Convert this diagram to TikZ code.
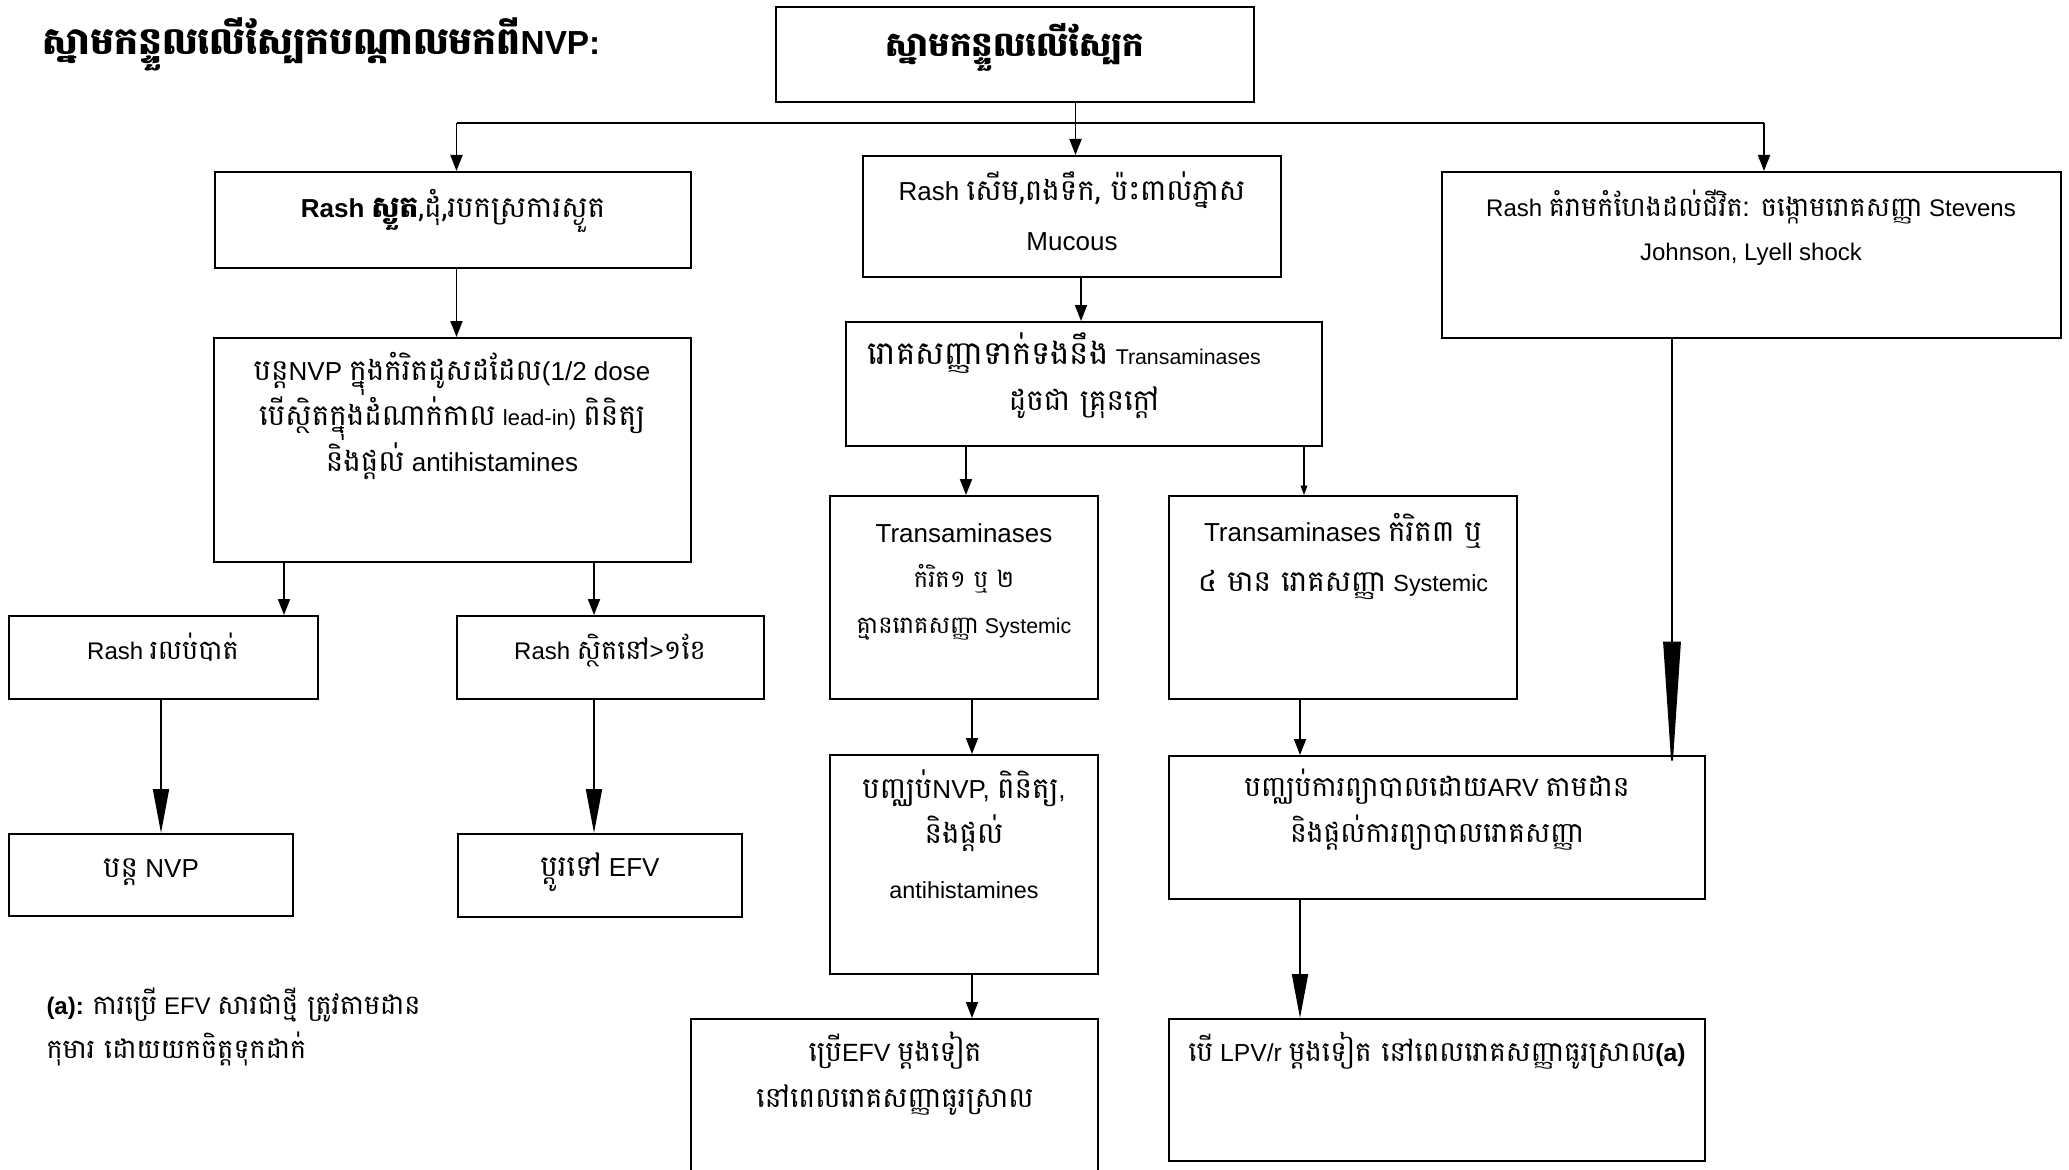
\documentclass[tikz,border=0pt]{standalone}
\usepackage{fontspec}
\setmainfont{Liberation Sans}
\newfontfamily\khfont[Script=Khmer,Scale=1.13]{Battambang}
\newcommand{\kh}[1]{{\khfont #1}}
\usetikzlibrary{arrows.meta,fit,calc}

\tikzset{every picture/.style={line width=0.75pt}}
\tikzset{
  box/.style={draw, line width=1.5pt, inner sep=0pt},
  txt/.style={align=center, anchor=base, inner sep=0pt, font=\fontsize{19.5}{34}\selectfont},
  ln/.style={line width=1.4pt},
  arr/.style={ln, -{Triangle[length=12pt,width=9pt]}},
  bigarr/.style={ln, -{Triangle[length=33pt,width=12pt]}},
  longarr/.style={ln, -{Triangle[length=100pt,width=13pt]}},
  thinarr/.style={line width=0.8pt, -{Triangle[length=7pt,width=5pt]}},
}

\begin{document}
\begin{tikzpicture}[x=0.75pt,y=0.75pt,yscale=-1,xscale=1]
\useasboundingbox (0,0) rectangle (2069,1170);

%title
\node[txt, anchor=base west, font=\fontsize{25}{30}\bfseries] (title) at (42,55) {\kh{ស្នាមកន្ទួលលើស្បែកបណ្ដាលមកពី}NVP:};

%boxes
\node[box, fit={(776,7) (1254,102)}] (top) {};
\node[box, fit={(215,172) (691,268)}] (a) {};
\node[box, fit={(863,156) (1281,277)}] (b) {};
\node[box, fit={(1442,172) (2061,338)}] (c) {};
\node[box, fit={(214,338) (691,562)}] (d) {};
\node[box, fit={(846,322) (1322,446)}] (e) {};
\node[box, fit={(9,616) (318,699)}] (f) {};
\node[box, fit={(457,616) (764,699)}] (g) {};
\node[box, fit={(9,834) (293,916)}] (h) {};
\node[box, fit={(458,834) (742,917)}] (i) {};
\node[box, fit={(830,496) (1098,699)}] (j) {};
\node[box, fit={(1169,496) (1517,699)}] (k) {};
\node[box, fit={(830,755) (1098,974)}] (l) {};
\node[box, fit={(1169,756) (1705,899)}] (m) {};
\node[box, fit={(691,1019) (1098,1174)}] (n) {};
\node[box, fit={(1169,1019) (1705,1161)}] (o) {};

%texts (anchor base = last line)
\node[txt, font=\fontsize{22.5}{30}\bfseries] (ttop) at (1015,57) {\kh{ស្នាមកន្ទួលលើស្បែក}};
\node[txt] (ta) at (453,217) {\textbf{Rash \kh{ស្ងួត}}\kh{,ដុំ,របកស្រការស្ងួត}};
\node[txt, font=\fontsize{19.5}{37.5}\selectfont] (tb) at (1072,250) {Rash \kh{សើម,ពងទឹក, ប៉ះពាល់ភ្នាស}\\Mucous};
\node[txt, font=\fontsize{18}{33}\selectfont] (tc) at (1751,260) {Rash \kh{គំរាមកំហែងដល់ជីវិត: ចង្កោមរោគសញ្ញា} Stevens\\Johnson, Lyell shock};
\node[txt] (td) at (452,471) {\kh{បន្ត}NVP \kh{ក្នុងកំរិតដូសដដែល}(1/2 dose\\\kh{បើស្ថិតក្នុងដំណាក់កាល} {\fontsize{16.5}{34}\selectfont lead-in)} \kh{ពិនិត្យ}\\\kh{និងផ្ដល់} antihistamines};
\node[txt] (te) at (1084,410) {{\fontsize{21.5}{34}\selectfont\kh{រោគសញ្ញាទាក់ទងនឹង}} {\fontsize{16}{34}\selectfont Transaminases}\hspace*{30pt}\\\kh{ដូចជា គ្រុនក្ដៅ}};
\node[txt, font=\fontsize{18}{34}\selectfont] (tf) at (163,659) {Rash \kh{រលប់បាត់}};
\node[txt, font=\fontsize{18}{34}\selectfont] (tg) at (610,659) {Rash \kh{ស្ថិតនៅ}>\kh{១ខែ}};
\node[txt] (th) at (151,877) {\kh{បន្ត} NVP};
\node[txt] (ti) at (600,876) {\kh{ប្ដូរទៅ} EFV};
\node[txt] (tj) at (964,633) {Transaminases\\{\fontsize{16}{34}\selectfont\kh{កំរិត១ ឬ ២}}\\{\fontsize{16}{34}\selectfont\kh{គ្មានរោគសញ្ញា} Systemic}};
\node[txt, font=\fontsize{19.5}{37.5}\selectfont] (tk) at (1343,591) {Transaminases \kh{កំរិត៣ ឬ}\\\kh{៤ មាន រោគសញ្ញា} {\fontsize{17.5}{34}\selectfont Systemic}};
\node[txt] (tl) at (964,898) {\kh{បញ្ឈប់}NVP, \kh{ពិនិត្យ},\\\kh{និងផ្ដល់}\\[7pt]{\fontsize{17.5}{34}\selectfont antihistamines}};
\node[txt, font=\fontsize{18.7}{34}\selectfont] (tm) at (1437,842) {\kh{បញ្ឈប់ការព្យាបាលដោយ}ARV \kh{តាមដាន}\\\kh{និងផ្ដល់ការព្យាបាលរោគសញ្ញា}};
\node[txt, font=\fontsize{18.7}{34}\selectfont] (tn) at (895,1107) {\kh{ប្រើ}EFV \kh{ម្ដងទៀត}\\\kh{នៅពេលរោគសញ្ញាធូរស្រាល}};
\node[txt, font=\fontsize{18.5}{34}\selectfont] (to) at (1437,1061) {\kh{បើ} LPV/r \kh{ម្ដងទៀត នៅពេលរោគសញ្ញាធូរស្រាល}\textbf{(a)}};
\node[txt, anchor=base west, align=left, font=\fontsize{18}{33}\selectfont] (note) at (46,1058) {\textbf{(a):} \kh{ការប្រើ} EFV \kh{សារជាថ្មី ត្រូវតាមដាន}\\\kh{កុមារ ដោយយកចិត្តទុកដាក់}};

%connectors
\coordinate (barl) at (456.5,123);
\coordinate (barm) at (1075.5,123);
\coordinate (barr) at (1764,123);
\draw[ln] (barl) -- (barr);
\draw[arr] (top.south -| barm) -- (b.north -| barm);
\draw[arr] (barl) -- (a.north -| barl);
\draw[arr] (barr) -- (c.north -| barr);
\draw[arr] (a.south -| 456.5,0) -- (d.north -| 456.5,0);
\draw[arr] (b.south -| 1081,0) -- (e.north -| 1081,0);
\draw[arr] (d.south -| 284,0) -- (f.north -| 284,0);
\draw[arr] (d.south -| 594,0) -- (g.north -| 594,0);
\draw[bigarr] (f.south -| 161,0) -- (h.north -| 161,0);
\draw[bigarr] (g.south -| 594,0) -- (i.north -| 594,0);
\draw[arr] (e.south -| 966,0) -- (j.north -| 966,0);
\draw[thinarr] (e.south -| 1304,0) -- (k.north -| 1304,0);
\draw[arr] (j.south -| 972,0) -- (l.north -| 972,0);
\draw[arr] (k.south -| 1300,0) -- (m.north -| 1300,0);
\draw[longarr] (c.south -| 1672,0) -- ($(m.north -| 1672,0)+(0,20)$);
\draw[arr] (l.south -| 972,0) -- (n.north -| 972,0);
\draw[bigarr] (m.south -| 1300,0) -- (o.north -| 1300,0);

\end{tikzpicture}
\end{document}
